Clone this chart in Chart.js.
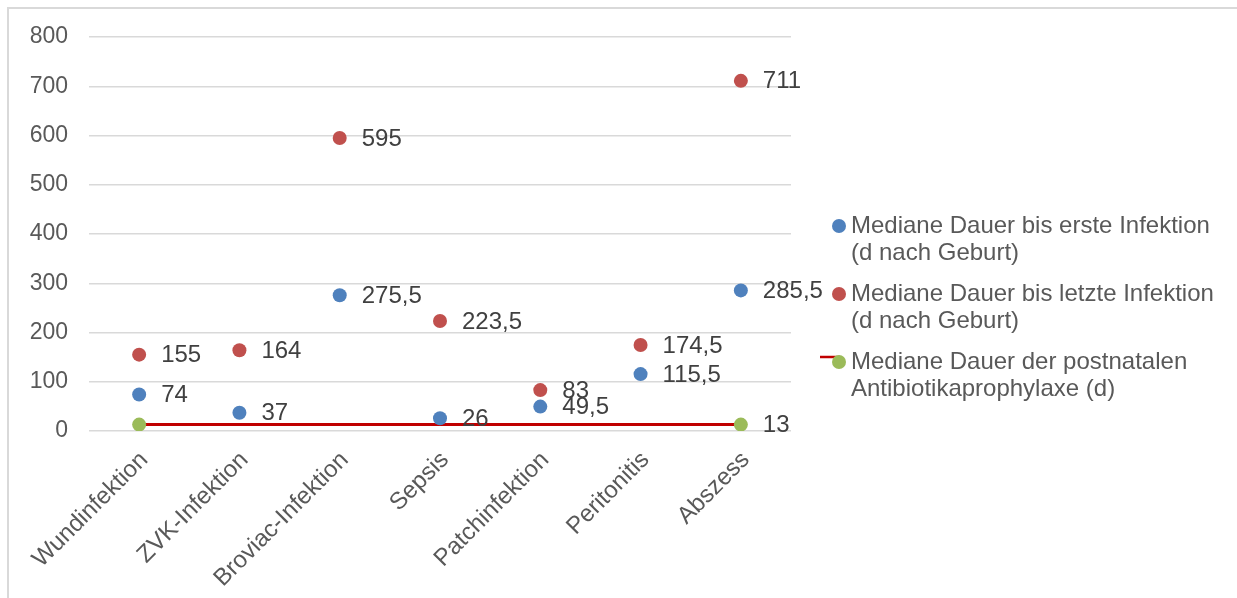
<!DOCTYPE html>
<html>
<head>
<meta charset="utf-8">
<script src="https://cdn.jsdelivr.net/npm/chart.js@4.4.1/dist/chart.umd.min.js"></script>
<style>
  html, body { margin: 0; padding: 0; background: #ffffff; }
  #wrap { width: 1237px; height: 598px; position: relative; }
</style>
</head>
<body>
<div id="wrap"><canvas id="c"></canvas></div>
<script>
// Infektionsarten (Kategorien)
const categories = ['Wundinfektion', 'ZVK-Infektion', 'Broviac-Infektion', 'Sepsis', 'Patchinfektion', 'Peritonitis', 'Abszess'];

// Mediane Dauer bis erste Infektion (d nach Geburt)
const ersteInfektion = [74, 37, 275.5, 26, 49.5, 115.5, 285.5];
// Mediane Dauer bis letzte Infektion (d nach Geburt)
const letzteInfektion = [155, 164, 595, 223.5, 83, 174.5, 711];
// Mediane Dauer der postnatalen Antibiotikaprophylaxe (d)
const prophylaxe = [13, null, null, null, null, null, 13];
const prophylaxeLabelIndex = [6];

const legendLines = [
  ['Mediane Dauer bis erste Infektion', '(d nach Geburt)'],
  ['Mediane Dauer bis letzte Infektion', '(d nach Geburt)'],
  ['Mediane Dauer der postnatalen', 'Antibiotikaprophylaxe (d)']
];

const yMin = 0, yMax = 800, yStep = 100;

const FONT = '"Liberation Sans", Arial, sans-serif';
const BLUE = '#4F81BD', RED = '#C0504D', GREEN = '#9BBB59', LINE_RED = '#C00000';

const fmt = v => String(v).replace('.', ',');

// Wertbeschriftungen, Legende und Rahmen
const decorations = {
  id: 'decorations',
  beforeDraw(chart) {
    const ctx = chart.ctx;
    ctx.save();
    ctx.strokeStyle = '#D9D9D9';
    ctx.lineWidth = 2;
    ctx.beginPath();
    ctx.moveTo(8, 598);
    ctx.lineTo(8, 8);
    ctx.lineTo(1237, 8);
    ctx.stroke();
    ctx.restore();
  },
  afterDatasetsDraw(chart) {
    const ctx = chart.ctx;
    ctx.save();
    ctx.font = '24px ' + FONT;
    ctx.fillStyle = '#404040';
    ctx.textAlign = 'left';
    ctx.textBaseline = 'middle';
    chart.data.datasets.forEach((ds, di) => {
      const meta = chart.getDatasetMeta(di);
      meta.data.forEach((pt, i) => {
        const v = ds.data[i];
        if (v === null || v === undefined) return;
        if (ds.labelIndex && !ds.labelIndex.includes(i)) return;
        ctx.fillText(fmt(v), pt.x + 22, pt.y + 1);
      });
    });

    // Legende
    const colors = [BLUE, RED, GREEN];
    const tops = [226, 294, 362];
    ctx.font = '24px ' + FONT;
    tops.forEach((y, k) => {
      if (k === 2) {
        ctx.strokeStyle = LINE_RED;
        ctx.lineWidth = 2.5;
        ctx.beginPath();
        ctx.moveTo(820, 357);
        ctx.lineTo(840, 357);
        ctx.stroke();
      }
      ctx.beginPath();
      ctx.fillStyle = colors[k];
      ctx.arc(839, y, 7, 0, Math.PI * 2);
      ctx.fill();
      ctx.fillStyle = '#595959';
      ctx.fillText(legendLines[k][0], 851, y);
      ctx.fillText(legendLines[k][1], 851, y + 27);
    });
    ctx.restore();
  }
};

new Chart(document.getElementById('c'), {
  type: 'line',
  data: {
    labels: categories,
    datasets: [
      {
        label: legendLines[2].join(' '),
        data: prophylaxe,
        labelIndex: prophylaxeLabelIndex,
        spanGaps: true,
        borderColor: LINE_RED,
        borderWidth: 3,
        pointRadius: 7,
        pointHoverRadius: 7,
        pointBackgroundColor: GREEN,
        pointBorderWidth: 0,
        order: 3
      },
      {
        label: legendLines[0].join(' '),
        data: ersteInfektion,
        showLine: false,
        pointRadius: 7,
        pointHoverRadius: 7,
        pointBackgroundColor: BLUE,
        pointBorderWidth: 0,
        order: 2
      },
      {
        label: legendLines[1].join(' '),
        data: letzteInfektion,
        showLine: false,
        pointRadius: 7,
        pointHoverRadius: 7,
        pointBackgroundColor: RED,
        pointBorderWidth: 0,
        order: 1
      }
    ]
  },
  options: {
    responsive: true,
    maintainAspectRatio: false,
    animation: false,
    layout: { padding: { left: 0, top: 37, right: 446, bottom: 0 } },
    plugins: {
      legend: { display: false },
      tooltip: { enabled: false }
    },
    scales: {
      x: {
        offset: true,
        grid: { display: false, drawTicks: false },
        border: { display: false },
        ticks: {
          color: '#595959',
          font: { family: FONT, size: 24 },
          minRotation: 45,
          maxRotation: 45,
          padding: 15,
          labelOffset: 5,
          autoSkip: false
        },
        afterFit(s) { s.height = 167; }
      },
      y: {
        min: yMin,
        max: yMax,
        grid: { color: '#D9D9D9', lineWidth: 1.5, drawTicks: false },
        border: { display: false },
        ticks: {
          stepSize: yStep,
          color: '#595959',
          font: { family: FONT, size: 23 },
          padding: 21
        },
        afterFit(s) { s.width = 89; }
      }
    }
  },
  plugins: [decorations]
});
</script>
</body>
</html>
